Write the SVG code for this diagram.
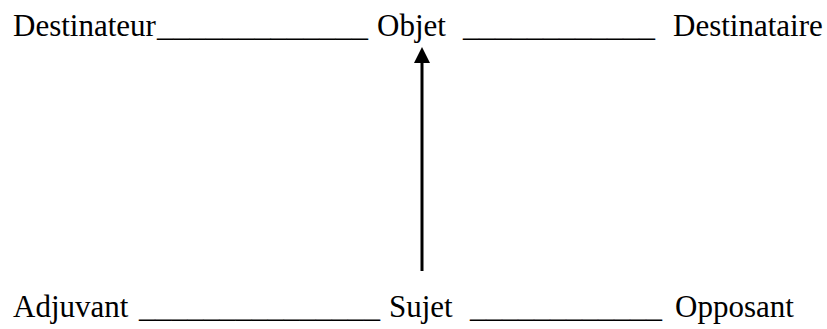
<svg xmlns="http://www.w3.org/2000/svg" width="827" height="329" viewBox="0 0 827 329">
  <style>
    text { font-family: "Liberation Serif", "Times New Roman", serif; font-size: 31px; fill: #000; }
    .link { stroke: #000; stroke-width: 3; fill: none; }
  </style>
  <rect width="827" height="329" fill="#fff"/>

  <!-- connectors: blank rules between actants, and the Sujet → Objet arrow -->
  <g id="connectors">
    <text x="157" y="36" textLength="211" lengthAdjust="spacingAndGlyphs">_____________</text>
    <text x="463" y="36" textLength="192" lengthAdjust="spacingAndGlyphs">____________</text>
    <text x="139" y="317" textLength="241" lengthAdjust="spacingAndGlyphs">_______________</text>
    <text x="470" y="317" textLength="192" lengthAdjust="spacingAndGlyphs">____________</text>
    <path class="link" d="M422,271 L422,63"/>
    <path d="M414,63 L422,47 L430,63 Z" fill="#000"/>
  </g>

  <g id="destinateur"><text x="13" y="36">Destinateur</text></g>
  <g id="objet"><text x="377" y="36">Objet</text></g>
  <g id="destinataire"><text x="673" y="36">Destinataire</text></g>
  <g id="adjuvant"><text x="13" y="317">Adjuvant</text></g>
  <g id="sujet"><text x="389" y="317">Sujet</text></g>
  <g id="opposant"><text x="675" y="317">Opposant</text></g>
</svg>
